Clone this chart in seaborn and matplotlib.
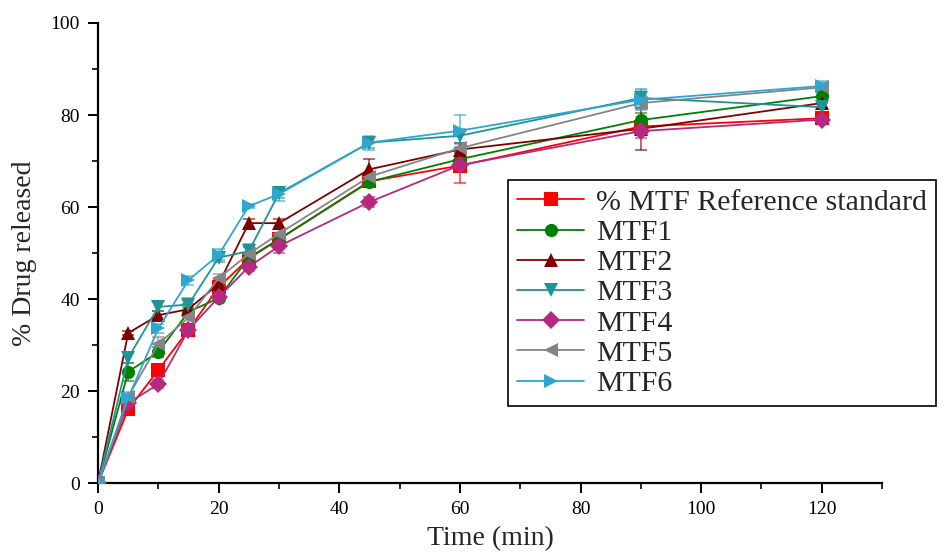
import numpy as np
import pandas as pd
import seaborn as sns
import matplotlib
matplotlib.use("Agg")
import matplotlib.pyplot as plt
from matplotlib.lines import Line2D
from matplotlib.ticker import MultipleLocator

# Sampling times (min)
time_min = [0, 5, 10, 15, 20, 25, 30, 45, 60, 90, 120]

# Mean cumulative release (%) per formulation
ref_std = [0, 16.0, 24.6, 33.3, 42.6, 48.8, 53.0, 65.6, 69.0, 77.5, 79.3]
mtf1 = [0, 24.2, 28.5, 37.2, 40.2, 49.0, 53.0, 65.5, 70.4, 78.9, 84.1]
mtf2 = [0, 32.6, 36.5, 37.8, 43.3, 56.5, 56.5, 68.2, 72.5, 77.0, 82.6]
mtf3 = [0, 27.2, 38.3, 38.8, 49.0, 50.4, 63.0, 74.0, 75.5, 83.7, 81.7]
mtf4 = [0, 17.4, 21.5, 33.3, 40.4, 47.0, 51.5, 61.1, 69.1, 76.5, 79.0]
mtf5 = [0, 18.8, 30.2, 36.0, 44.5, 49.8, 54.2, 66.6, 72.8, 82.6, 86.0]
mtf6 = [0, 18.5, 33.6, 44.1, 49.6, 60.2, 62.8, 74.0, 76.6, 83.3, 86.3]

# Standard deviations
ref_sd = [0, 1.0, 0.8, 1.0, 1.2, 1.0, 1.0, 1.0, 3.8, 1.2, 0.8]
mtf1_sd = [0, 2.0, 1.0, 1.0, 0.8, 1.0, 1.0, 1.2, 1.5, 1.5, 1.0]
mtf2_sd = [0, 0.5, 1.0, 1.2, 1.0, 1.0, 1.0, 2.3, 1.5, 4.5, 1.0]
mtf3_sd = [0, 1.0, 1.0, 1.5, 1.0, 1.5, 1.0, 1.2, 1.5, 2.0, 1.0]
mtf4_sd = [0, 1.0, 0.8, 1.0, 0.8, 1.0, 1.5, 1.0, 1.5, 1.5, 1.0]
mtf5_sd = [0, 1.0, 1.5, 1.5, 1.0, 1.5, 1.0, 1.0, 1.0, 1.5, 1.0]
mtf6_sd = [0, 1.0, 1.0, 1.0, 1.2, 0.5, 1.5, 1.5, 3.5, 2.0, 1.0]

series_names = ["% MTF Reference standard", "MTF1", "MTF2", "MTF3",
                "MTF4", "MTF5", "MTF6"]
series_means = [ref_std, mtf1, mtf2, mtf3, mtf4, mtf5, mtf6]
series_sds = [ref_sd, mtf1_sd, mtf2_sd, mtf3_sd, mtf4_sd, mtf5_sd, mtf6_sd]

colors = ["#ff0000", "#008000", "#800000", "#1f9494", "#b5297e",
          "#858585", "#2ea6d0"]
markers = ["s", "o", "^", "v", "D", "<", ">"]

rows = []
for name, vals, sds in zip(series_names, series_means, series_sds):
    for t, v, s in zip(time_min, vals, sds):
        rows.append({"Time": t, "Release": v, "SD": s, "Formulation": name})
df = pd.DataFrame(rows)

sns.set_theme(style="ticks")
plt.rcParams["font.family"] = ["Liberation Serif", "DejaVu Serif"]

fig = plt.figure(figsize=(9.47, 5.54), dpi=100)
ax = fig.add_axes([0.1035, 0.128, 0.828, 0.8305])

palette = dict(zip(series_names, colors))
marker_map = dict(zip(series_names, markers))

# Error bars under the lines
for name, col in zip(series_names, colors):
    sub = df[df["Formulation"] == name]
    ax.errorbar(sub["Time"], sub["Release"], yerr=sub["SD"], fmt="none",
                ecolor=col, alpha=0.75, elinewidth=1.1, capsize=4.5,
                capthick=1.1, zorder=2)

sns.lineplot(data=df, x="Time", y="Release", hue="Formulation",
             style="Formulation", hue_order=series_names,
             style_order=series_names, palette=palette, markers=marker_map,
             dashes=False, linewidth=1.3, markersize=9.5, markeredgewidth=0,
             legend=False, ax=ax, zorder=3)

ax.set_xlim(0, 130)
ax.set_ylim(0, 100)
ax.xaxis.set_major_locator(MultipleLocator(20))
ax.xaxis.set_minor_locator(MultipleLocator(10))
ax.yaxis.set_major_locator(MultipleLocator(20))
ax.yaxis.set_minor_locator(MultipleLocator(10))
ax.tick_params(which="major", direction="out", length=7, width=1.4,
               labelsize=14, colors="black", pad=6)
ax.tick_params(which="minor", direction="out", length=4, width=1.4)
for side in ["top", "right"]:
    ax.spines[side].set_visible(False)
for side in ["left", "bottom"]:
    ax.spines[side].set_linewidth(1.6)
    ax.spines[side].set_color("black")

ax.set_xlabel("Time (min)", fontsize=20, labelpad=6)
ax.set_ylabel("% Drug released", fontsize=20, labelpad=10)

handles = [Line2D([0], [0], color=c, marker=m, markersize=9.5,
                  markeredgewidth=0, linewidth=1.3)
           for c, m in zip(colors, markers)]
leg = fig.legend(handles, series_names, loc="upper left",
                 bbox_to_anchor=(508 / 947, 1 - 180 / 554),
                 fontsize=21.5, frameon=True, fancybox=False,
                 edgecolor="black", framealpha=1, handlelength=2.25,
                 labelspacing=0.11, borderpad=0.3, handletextpad=0.4,
                 borderaxespad=0)
leg.get_frame().set_linewidth(1.2)

fig.savefig("out.png", dpi=100)
